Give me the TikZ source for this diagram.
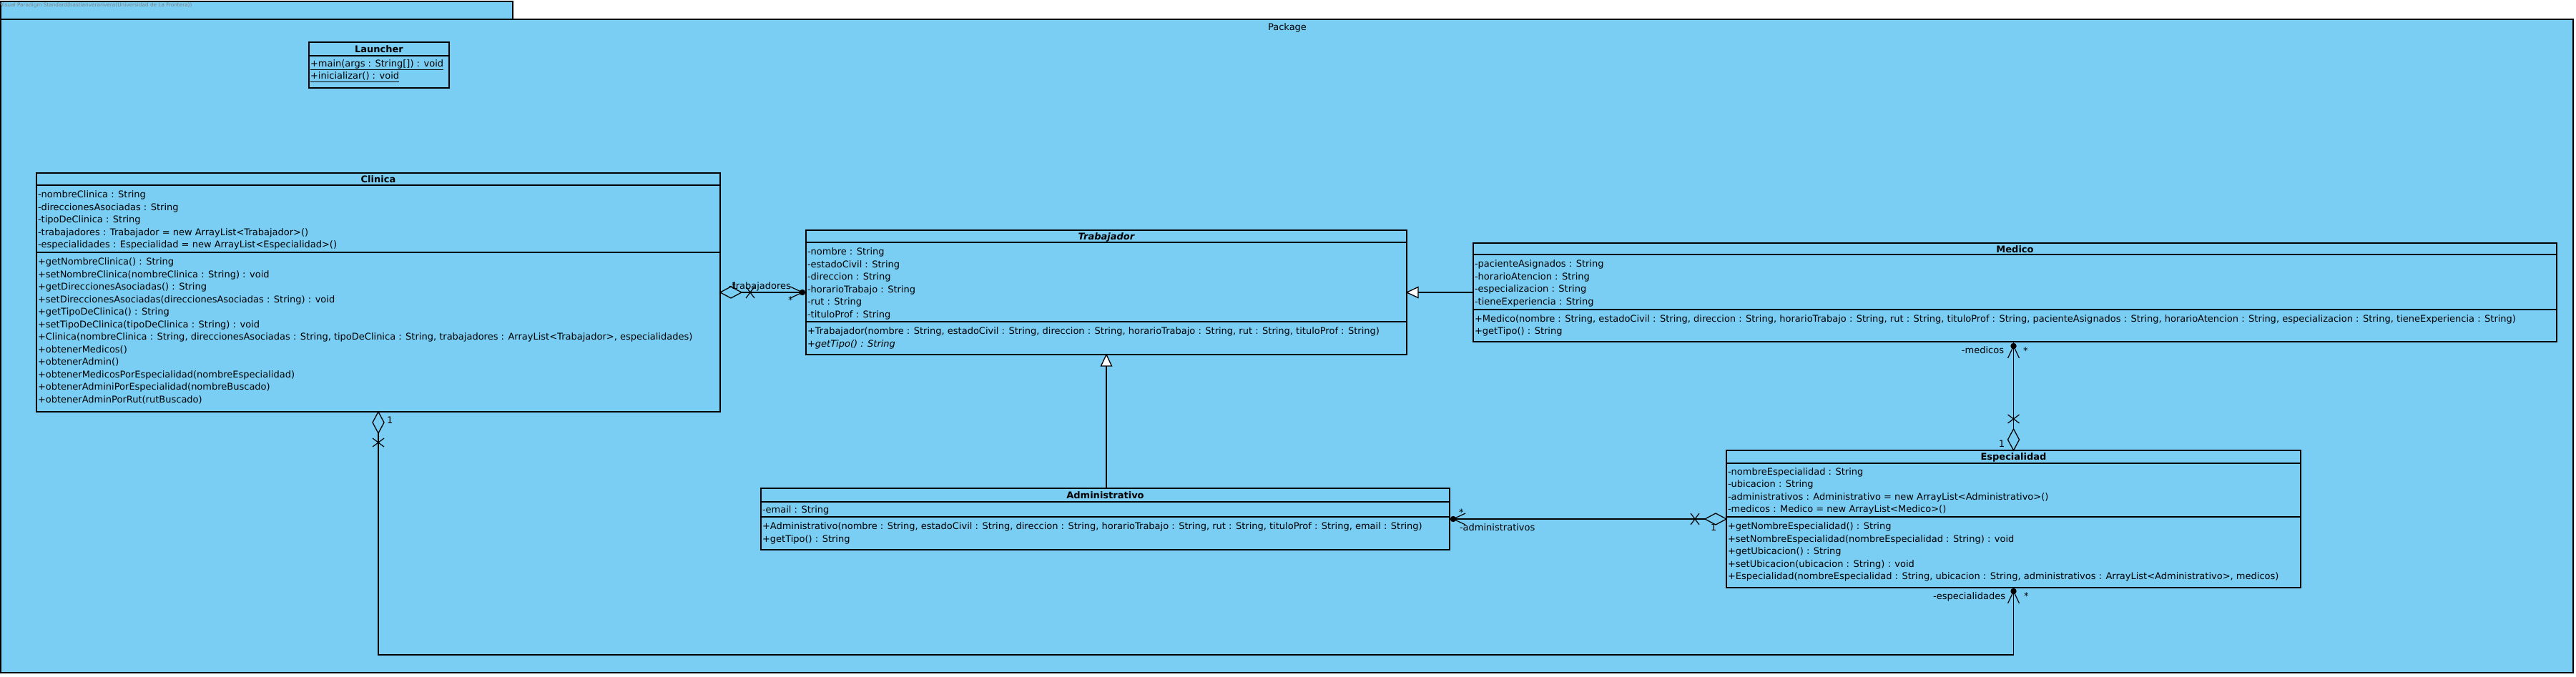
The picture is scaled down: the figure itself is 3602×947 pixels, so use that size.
\documentclass[tikz,border=0pt]{standalone}
\usepackage{fontspec}
\setmainfont{DejaVu Sans}
\usetikzlibrary{calc}
\definecolor{vpblue}{RGB}{122,206,244}
\definecolor{vpgray}{RGB}{128,128,128}
\newcommand\vpsize{\fontsize{13}{16}\selectfont}
\begin{document}
\begin{tikzpicture}[x=1pt,y=-1pt,
  every node/.style={inner sep=0pt, outer sep=0pt},
  classbox/.style={draw=black, line width=1.3pt, fill=vpblue, rectangle, anchor=north west},
  pkgbox/.style={draw=black, line width=1.8pt, fill=vpblue, rectangle, anchor=north west},
  txt/.style={anchor=base west, font=\vpsize},
  ttl/.style={anchor=base, font=\vpsize\bfseries},
  lbl/.style={anchor=base west, font=\vpsize},
  lble/.style={anchor=base east, font=\vpsize},
  sepl/.style={line width=1.3pt},
  conn/.style={line width=1.3pt},
  xmk/.style={line width=1.2pt},
]
\useasboundingbox (0,0) rectangle (3602,947);
\fill[white] (0,0) rectangle (3602,947);
% package
\node[pkgbox, minimum width=716, minimum height=25] (tab) at (1,2) {};
\node[pkgbox, minimum width=3597, minimum height=914] (pkg) at (1,27) {};
\node[anchor=base west, font=\fontsize{7.3}{8}\selectfont, text=vpgray] (wm) at (0,10) {Visual Paradigm Standard(bastianverarivera(Universidad de La Frontera))};
\node[anchor=base, font=\vpsize] (pkgname) at (1800,43) {Package};

% Launcher
\node[classbox, minimum width=196, minimum height=64] (launch) at (432,59) {};
\node[ttl] (launch-t) at (530,73.5) {Launcher};
\draw[sepl] (432,78) -- (628,78);
\node[txt] (launch-m0) at (434,93.5) {\underline{+main(args : String[]) : void}};
\node[txt] (launch-m1) at (434,111) {\underline{+inicializar() : void}};

% Clinica
\node[classbox, minimum width=956, minimum height=334] (clin) at (51,242) {};
\node[ttl] (clin-t) at (529,255.5) {Clinica};
\draw[sepl] (51,259) -- (1007,259);
\draw[sepl] (51,353) -- (1007,353);
\foreach \t [count=\i from 0] in {{-nombreClinica : String},{-direccionesAsociadas : String},{-tipoDeClinica : String},{-trabajadores : Trabajador = new ArrayList<Trabajador>()},{-especialidades : Especialidad = new ArrayList<Especialidad>()}}
  \node[txt] (clin-a\i) at (53,{276.5+\i*17.5}) {\t};
\foreach \t [count=\i from 0] in {{+getNombreClinica() : String},{+setNombreClinica(nombreClinica : String) : void},{+getDireccionesAsociadas() : String},{+setDireccionesAsociadas(direccionesAsociadas : String) : void},{+getTipoDeClinica() : String},{+setTipoDeClinica(tipoDeClinica : String) : void},{+Clinica(nombreClinica : String, direccionesAsociadas : String, tipoDeClinica : String, trabajadores : ArrayList<Trabajador>, especialidades)},{+obtenerMedicos()},{+obtenerAdmin()},{+obtenerMedicosPorEspecialidad(nombreEspecialidad)},{+obtenerAdminiPorEspecialidad(nombreBuscado)},{+obtenerAdminPorRut(rutBuscado)}}
  \node[txt] (clin-m\i) at (53,{370.5+\i*17.5}) {\t};

% Trabajador
\node[classbox, minimum width=840, minimum height=174] (trab) at (1127,322) {};
\node[ttl, font=\vpsize\bfseries\itshape] (trab-t) at (1547,335.5) {Trabajador};
\draw[sepl] (1127,339) -- (1967,339);
\draw[sepl] (1127,450) -- (1967,450);
\foreach \t [count=\i from 0] in {{-nombre : String},{-estadoCivil : String},{-direccion : String},{-horarioTrabajo : String},{-rut : String},{-tituloProf : String}}
  \node[txt] (trab-a\i) at (1129,{356.5+\i*17.5}) {\t};
\node[txt] (trab-m0) at (1129,467.5) {+Trabajador(nombre : String, estadoCivil : String, direccion : String, horarioTrabajo : String, rut : String, tituloProf : String)};
\node[txt] (trab-m1) at (1129,485) {\itshape +getTipo() : String};

% Medico
\node[classbox, minimum width=1515, minimum height=138] (med) at (2060,340) {};
\node[ttl] (med-t) at (2817.5,353.5) {Medico};
\draw[sepl] (2060,356) -- (3575,356);
\draw[sepl] (2060,433) -- (3575,433);
\foreach \t [count=\i from 0] in {{-pacienteAsignados : String},{-horarioAtencion : String},{-especializacion : String},{-tieneExperiencia : String}}
  \node[txt] (med-a\i) at (2062,{373.5+\i*17.5}) {\t};
\node[txt] (med-m0) at (2062,450) {+Medico(nombre : String, estadoCivil : String, direccion : String, horarioTrabajo : String, rut : String, tituloProf : String, pacienteAsignados : String, horarioAtencion : String, especializacion : String, tieneExperiencia : String)};
\node[txt] (med-m1) at (2062,467.5) {+getTipo() : String};

% Administrativo
\node[classbox, minimum width=963, minimum height=86] (adm) at (1064,683) {};
\node[ttl] (adm-t) at (1545.5,697.5) {Administrativo};
\draw[sepl] (1064,702) -- (2027,702);
\draw[sepl] (1064,723) -- (2027,723);
\node[txt] (adm-a0) at (1066,717.5) {-email : String};
\node[txt] (adm-m0) at (1066,740.5) {+Administrativo(nombre : String, estadoCivil : String, direccion : String, horarioTrabajo : String, rut : String, tituloProf : String, email : String)};
\node[txt] (adm-m1) at (1066,758) {+getTipo() : String};

% Especialidad
\node[classbox, minimum width=803, minimum height=192] (espec) at (2414,630) {};
\node[ttl] (espec-t) at (2815.5,643.5) {Especialidad};
\draw[sepl] (2414,648) -- (3217,648);
\draw[sepl] (2414,723) -- (3217,723);
\foreach \t [count=\i from 0] in {{-nombreEspecialidad : String},{-ubicacion : String},{-administrativos : Administrativo = new ArrayList<Administrativo>()},{-medicos : Medico = new ArrayList<Medico>()}}
  \node[txt] (espec-a\i) at (2416,{664+\i*17.5}) {\t};
\foreach \t [count=\i from 0] in {{+getNombreEspecialidad() : String},{+setNombreEspecialidad(nombreEspecialidad : String) : void},{+getUbicacion() : String},{+setUbicacion(ubicacion : String) : void},{+Especialidad(nombreEspecialidad : String, ubicacion : String, administrativos : ArrayList<Administrativo>, medicos)}}
  \node[txt] (espec-m\i) at (2416,{740.5+\i*17.5}) {\t};

% ---- connectors ----
% Clinica <>-- Trabajador (trabajadores)
\draw[conn] (clin.east) -- (trab.west);
\draw[conn, fill=vpblue] (clin.east) -- ++(15,-8) -- ++(15,8) -- ++(-15,8) -- cycle;
\draw[xmk] ($(clin.east)+(36,-8)$) -- ++(12,16);
\draw[xmk] ($(clin.east)+(36,8)$) -- ++(12,-16);
\fill ($(trab.west)+(-5,0)$) circle (4.2);
\draw[xmk] ($(trab.west)+(-5,0)$) -- ++(-17,-8);
\draw[xmk] ($(trab.west)+(-5,0)$) -- ++(-17,8);
\node[lbl] (l-trab-role) at (1019,404) {-trabajadores};
\node[lbl] (l-trab-1) at (1023,404) {1};
\node[lbl] (l-trab-star) at (1102,424) {*};

% Medico --|> Trabajador
\draw[conn] (med.west) -- ($(trab.east)+(16,0)$);
\draw[conn, fill=white] (trab.east) -- ++(16,-7.5) -- ++(0,15) -- cycle;

% Administrativo --|> Trabajador
\draw[conn] (trab.south |- adm.north) -- ($(trab.south)+(0,16)$);
\draw[conn, fill=white] (trab.south) -- ++(-7.5,16) -- ++(15,0) -- cycle;

% Especialidad <>-- Administrativo (administrativos)
\draw[conn] (adm.east) -- (espec.west);
\draw[conn, fill=vpblue] (espec.west) -- ++(-15,-8) -- ++(-15,8) -- ++(15,8) -- cycle;
\draw[xmk] ($(espec.west)+(-50,-8)$) -- ++(12,16);
\draw[xmk] ($(espec.west)+(-50,8)$) -- ++(12,-16);
\fill ($(adm.east)+(5,0)$) circle (4.2);
\draw[xmk] ($(adm.east)+(5,0)$) -- ++(17,-8);
\draw[xmk] ($(adm.east)+(5,0)$) -- ++(17,8);
\node[lbl] (l-adm-star) at (2040,721) {*};
\node[lbl] (l-adm-role) at (2041,742) {-administrativos};
\node[lbl] (l-adm-1) at (2392,742) {1};

% Especialidad <>-- Medico (medicos)
\draw[conn] (espec.north) -- (espec.north |- med.south);
\draw[conn, fill=vpblue] (espec.north) -- ++(-8,-15) -- ++(8,-15) -- ++(8,15) -- cycle;
\draw[xmk] ($(espec.north)+(-8,-50)$) -- ++(16,12);
\draw[xmk] ($(espec.north)+(8,-50)$) -- ++(-16,12);
\coordinate (meddot) at ($(espec.north |- med.south)+(0,6)$);
\fill (meddot) circle (4.2);
\draw[xmk] (meddot) -- ++(-8,17);
\draw[xmk] (meddot) -- ++(8,17);
\node[lble] (l-med-role) at (2802,494) {-medicos};
\node[lbl] (l-med-star) at (2829,495) {*};
\node[lble] (l-med-1) at (2803,625) {1};

% Clinica <>-- Especialidad (especialidades)
\coordinate (botline) at (0,916);
\draw[conn] (clin.south) -- (clin.south |- botline) -| (espec.south);
\draw[conn, fill=vpblue] (clin.south) -- ++(-8,15) -- ++(8,15) -- ++(8,-15) -- cycle;
\draw[xmk] ($(clin.south)+(-8,37)$) -- ++(16,12);
\draw[xmk] ($(clin.south)+(8,37)$) -- ++(-16,12);
\coordinate (espdot) at ($(espec.south)+(0,5)$);
\fill (espdot) circle (4.2);
\draw[xmk] (espdot) -- ++(-8,17);
\draw[xmk] (espdot) -- ++(8,17);
\node[lbl] (l-clin-1) at (541,592) {1};
\node[lble] (l-esp-role) at (2804,838) {-especialidades};
\node[lbl] (l-esp-star) at (2830,838) {*};
\end{tikzpicture}
\end{document}
